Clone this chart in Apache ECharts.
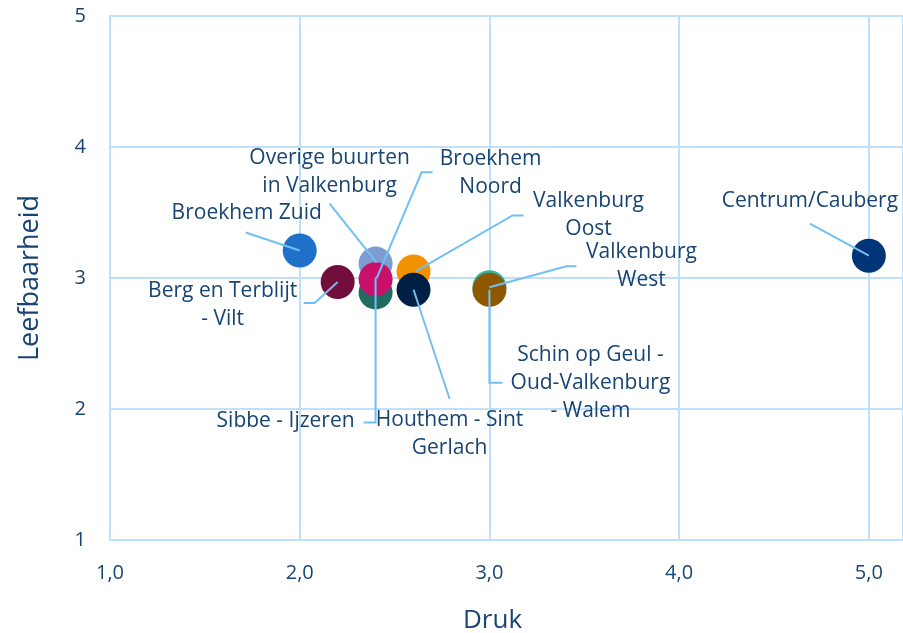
<!DOCTYPE html>
<html>
<head>
<meta charset="utf-8">
<title>Druk en leefbaarheid</title>
<script src="https://cdn.jsdelivr.net/npm/echarts@6/dist/echarts.min.js"></script>
<style>
    html, body { margin: 0; padding: 0; background: #fff; }
    #chart { width: 903px; height: 633px; }
</style>
</head>
<body>
<div id="chart"></div>
<script>
// Data
// ------------------------------

var buurten = [
    'Broekhem Zuid',
    'Berg en Terblijt\n- Vilt',
    'Overige buurten\nin Valkenburg',
    'Sibbe - Ijzeren',
    'Broekhem\nNoord',
    'Valkenburg\nOost',
    'Houthem - Sint\nGerlach',
    'Valkenburg\nWest',
    'Schin op Geul -\nOud-Valkenburg\n- Walem',
    'Centrum/Cauberg'
];
var druk = [2.0, 2.2, 2.4, 2.4, 2.4, 2.6, 2.6, 3.0, 3.0, 5.0];
var leefbaarheid = [3.21, 2.97, 3.11, 2.89, 2.99, 3.05, 2.91, 2.93, 2.91, 3.17];
var xTicks = [1, 2, 3, 4, 5];
var yTicks = [1, 2, 3, 4, 5];

// Styles (per point): colour, label offset, leader line offsets (px from point)
var kleuren = ['#1F70C8', '#720E3C', '#7D9CD0', '#226B63', '#C9106B',
               '#F39200', '#001F45', '#2FB59F', '#8E5800', '#003578'];
var labelOffsets = [
    [-53, -37], [-115, 23], [-46, -92], [-90, 129], [115, -106],
    [175, -56], [36, 144], [152, -21], [101, 93], [-59, -55]
];
var leaderLines = [
    [[-54, -18], [0, 0]],
    [[-34, 21], [-23, 21], [0, 0]],
    [[-46, -60], [1, -1]],
    [[-12, 130], [0, 130], [0, -15]],
    [[57, -107], [46, -107], [1, -1]],
    [[110, -56], [99, -56], [2, 0]],
    [[36, 109], [0, 0]],
    [[87, -21], [77, -21], [0, 0]],
    [[13, 93], [0, 93], [0, 0]],
    [[-59, -32], [0, 0]]
];


// Setup module
// ------------------------------

var ScatterDruk = function() {

    var _scatter = function() {
        var el = document.getElementById('chart');
        if (!el) return;

        var chart = echarts.init(el);
        var textColor = '#174472';
        var gridColor = '#C0E0FA';
        var leaderColor = '#72BFF4';

        // Bubbles with their labels
        var series = buurten.map(function(naam, i) {
            return {
                name: naam,
                type: 'scatter',
                symbolSize: 34,
                z: 2 + i,
                itemStyle: { color: kleuren[i], opacity: 1 },
                data: [[druk[i], leefbaarheid[i]]],
                label: {
                    show: true,
                    formatter: naam,
                    position: 'inside',
                    align: 'center',
                    verticalAlign: 'middle',
                    color: textColor,
                    fontFamily: 'Open Sans',
                    fontSize: 21,
                    lineHeight: 28
                },
                labelLayout: {
                    dx: labelOffsets[i][0],
                    dy: labelOffsets[i][1]
                },
                emphasis: { disabled: true }
            };
        });

        // Leader lines, drawn from the same data through the axes
        series.push({
            type: 'custom',
            z: 30,
            silent: true,
            data: druk.map(function(d, i) { return [d, leefbaarheid[i]]; }),
            renderItem: function(params, api) {
                var c = api.coord([api.value(0), api.value(1)]);
                var pts = leaderLines[params.dataIndex].map(function(p) {
                    return [c[0] + p[0], c[1] + p[1]];
                });
                return {
                    type: 'polyline',
                    shape: { points: pts },
                    style: { stroke: leaderColor, lineWidth: 2, fill: null }
                };
            }
        });

        chart.setOption({
            animation: false,
            textStyle: { fontFamily: 'Open Sans' },
            grid: { left: 110, right: 0, top: 16, bottom: 93, outerBoundsMode: 'none' },
            xAxis: {
                type: 'value',
                min: xTicks[0],
                max: 5.18,
                interval: 1,
                name: 'Druk',
                nameLocation: 'middle',
                nameGap: 68,
                nameTextStyle: { color: textColor, fontSize: 26, padding: [0, 28, 0, 0] },
                axisLine: { show: true, lineStyle: { color: gridColor, width: 2 } },
                axisTick: { show: false },
                axisLabel: {
                    color: textColor,
                    fontSize: 20,
                    margin: 23,
                    showMaxLabel: false,
                    formatter: function(v) {
                        return xTicks.indexOf(v) > -1 ? v.toFixed(1).replace('.', ',') : '';
                    }
                },
                splitLine: { show: true, lineStyle: { color: gridColor, width: 2 } }
            },
            yAxis: {
                type: 'value',
                min: yTicks[0],
                max: yTicks[yTicks.length - 1],
                interval: 1,
                name: 'Leefbaarheid',
                nameLocation: 'middle',
                nameGap: 66,
                nameTextStyle: { color: textColor, fontSize: 27 },
                axisLine: { show: true, lineStyle: { color: gridColor, width: 2 } },
                axisTick: { show: false },
                axisLabel: { color: textColor, fontSize: 20, margin: 24 },
                splitLine: { show: true, lineStyle: { color: gridColor, width: 2 } }
            },
            series: series
        });
    };

    return {
        init: function() {
            _scatter();
        }
    };
}();

document.addEventListener('DOMContentLoaded', function() {
    ScatterDruk.init();
});
</script>
</body>
</html>
